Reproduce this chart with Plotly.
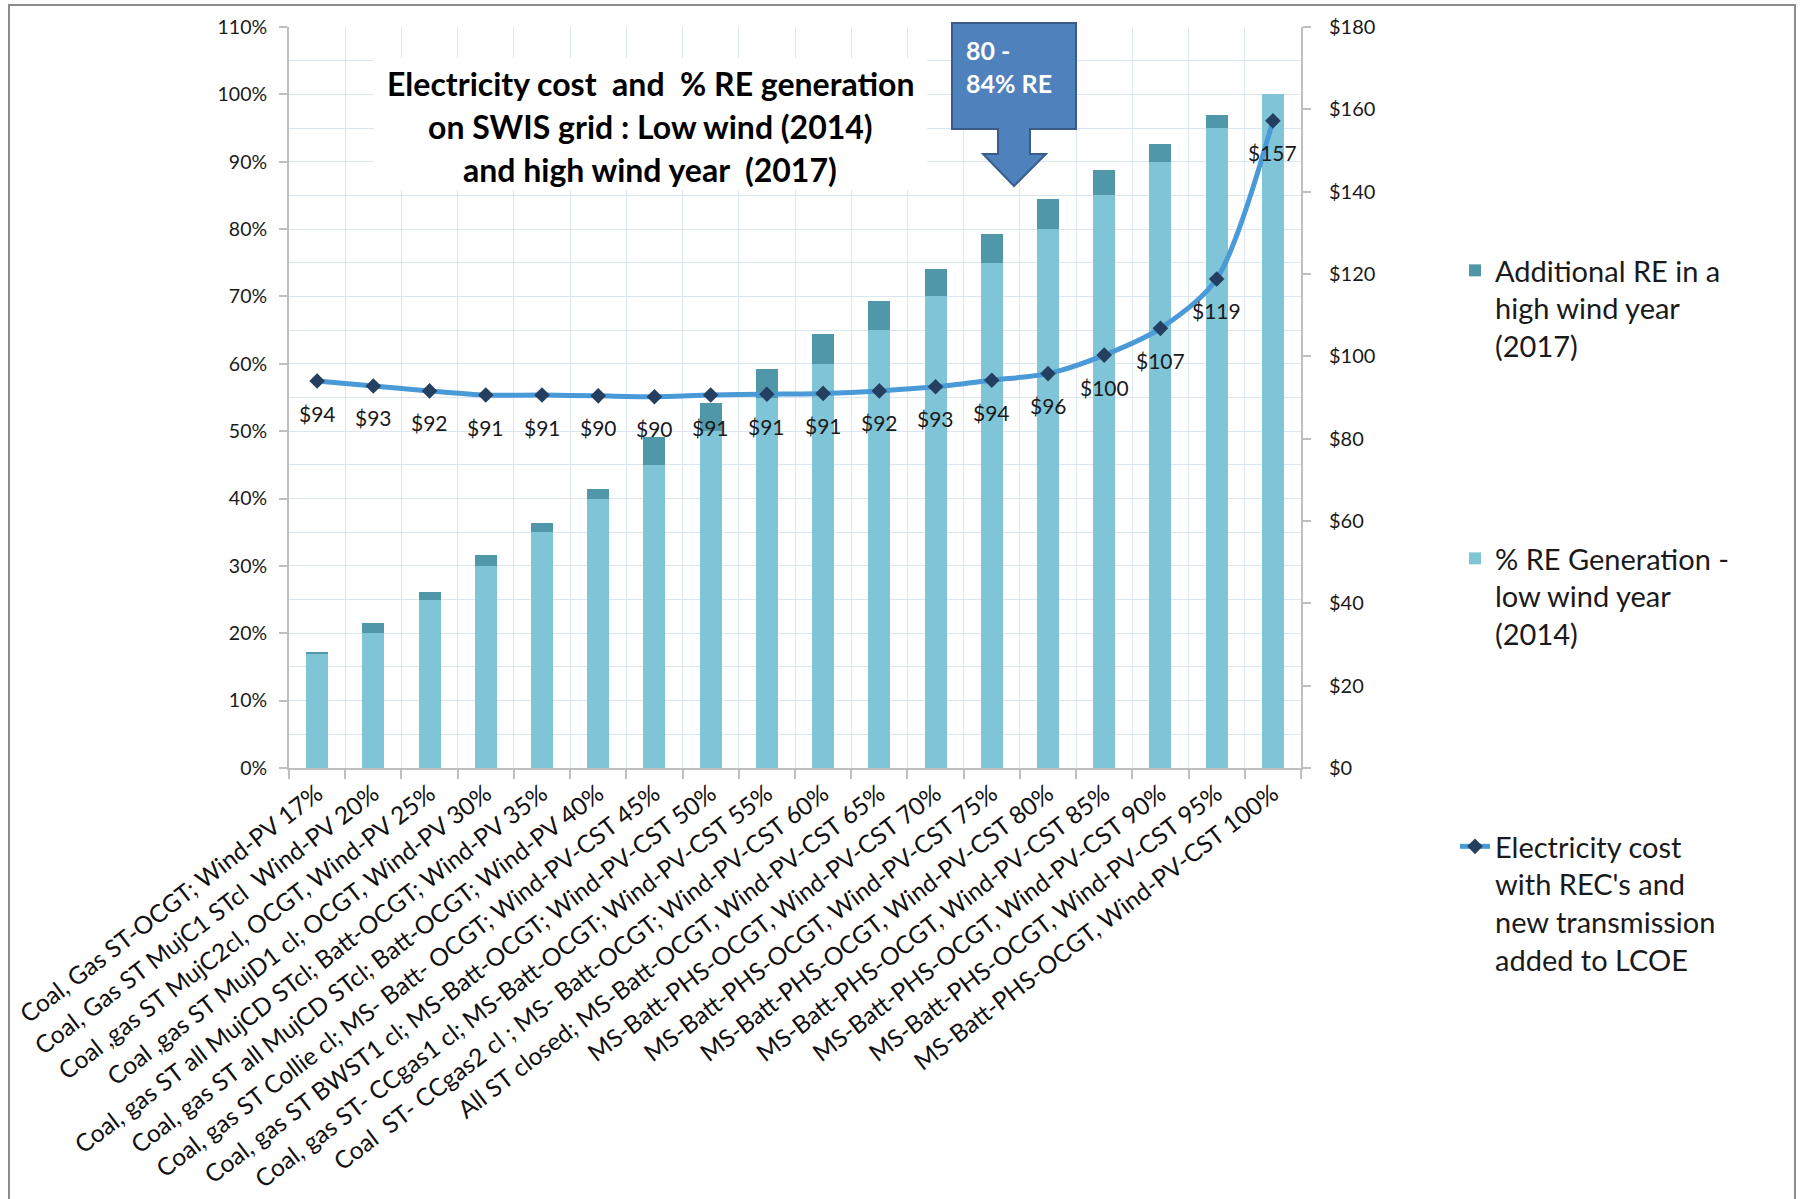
import plotly.graph_objects as go

# ---------------- data ----------------
categories = [
    "Coal, Gas ST-OCGT; Wind-PV 17%",
    "Coal, Gas ST MujC1 STcl  Wind-PV 20%",
    "Coal ,gas ST MujC2cl, OCGT, Wind-PV 25%",
    "Coal ,gas ST MujD1 cl; OCGT, Wind-PV 30%",
    "Coal, gas ST all MujCD STcl; Batt-OCGT; Wind-PV 35%",
    "Coal, gas ST all MujCD STcl; Batt-OCGT; Wind-PV 40%",
    "Coal, gas ST Collie cl; MS- Batt- OCGT; Wind-PV-CST 45%",
    "Coal, gas ST BWST1 cl; MS-Batt-OCGT; Wind-PV-CST 50%",
    "Coal, gas ST- CCgas1 cl; MS-Batt-OCGT; Wind-PV-CST 55%",
    "Coal  ST- CCgas2 cl ; MS- Batt-OCGT; Wind-PV-CST 60%",
    "All ST closed; MS-Batt-OCGT, Wind-PV-CST 65%",
    "MS-Batt-PHS-OCGT, Wind-PV-CST 70%",
    "MS-Batt-PHS-OCGT, Wind-PV-CST 75%",
    "MS-Batt-PHS-OCGT, Wind-PV-CST 80%",
    "MS-Batt-PHS-OCGT, Wind-PV-CST 85%",
    "MS-Batt-PHS-OCGT, Wind-PV-CST 90%",
    "MS-Batt-PHS-OCGT, Wind-PV-CST 95%",
    "MS-Batt-PHS-OCGT, Wind-PV-CST 100%",
]
re_low_wind_2014 = [17, 20, 25, 30, 35, 40, 45, 50, 55, 60, 65, 70, 75, 80, 85, 90, 95, 100]
re_additional_2017 = [0.2, 1.5, 1.1, 1.6, 1.4, 1.4, 4.2, 4.2, 4.2, 4.5, 4.3, 4.1, 4.3, 4.4, 3.7, 2.6, 2.0, 0.0]
cost_lcoe = [94.0, 92.8, 91.6, 90.6, 90.6, 90.4, 90.2, 90.6, 90.8, 91.0, 91.6, 92.6, 94.2, 95.8, 100.3, 106.8, 118.8, 157.2]

name_additional = "Additional RE in a<br>high wind year<br>(2017)"
name_low = "% RE Generation -<br>low wind year<br>(2014)"
name_cost = "Electricity cost<br>with REC's and<br>new transmission<br>added to LCOE"

title_lines = [
    "Electricity cost  and  % RE generation",
    "on SWIS grid : Low wind (2014)",
    "and high wind year  (2017)",
]
callout_text = "80 -<br>84% RE"

left_tick_vals = [0, 10, 20, 30, 40, 50, 60, 70, 80, 90, 100, 110]
left_tick_text = ["0%", "10%", "20%", "30%", "40%", "50%", "60%", "70%", "80%", "90%", "100%", "110%"]
right_tick_vals = [0, 20, 40, 60, 80, 100, 120, 140, 160, 180]
right_tick_text = ["$0", "$20", "$40", "$60", "$80", "$100", "$120", "$140", "$160", "$180"]

# ---------------- layout helpers ----------------
W, H = 1801, 1199
L, R, T, B = 289, 1301, 27, 768
FONT = "Lato"


def px(x):
    return (x - L) / (R - L)


def py(y):
    return (B - y) / (B - T)


LIGHT = "#80c4d7"
DARK = "#5098a9"
LINE = "#4a9ad8"
MARK = "#243f60"
GRID = "#dce6f2"
AXIS = "#bfbfbf"

fig = go.Figure()

fig.add_trace(go.Bar(
    x=categories, y=re_low_wind_2014, name=name_low,
    marker=dict(color=LIGHT, line=dict(width=0)),
    legend="legend2", yaxis="y",
))
fig.add_trace(go.Bar(
    x=categories, y=re_additional_2017, name=name_additional,
    marker=dict(color=DARK, line=dict(width=0)),
    legend="legend", yaxis="y",
))
fig.add_trace(go.Scatter(
    x=categories, y=cost_lcoe, name=name_cost, yaxis="y2",
    mode="lines+markers",
    line=dict(color=LINE, width=5, shape="spline", smoothing=0.8),
    marker=dict(symbol="diamond", size=12, color=MARK),
    legend="legend3",
))

legend_common = dict(
    xanchor="left", yanchor="top", valign="top",
    font=dict(family=FONT, size=29, color="#1a1a1a"),
    bgcolor="rgba(0,0,0,0)", borderwidth=0,
)

fig.update_layout(
    width=W, height=H,
    margin=dict(l=L, r=W - R, t=T, b=H - B, pad=0),
    paper_bgcolor="white", plot_bgcolor="white",
    barmode="stack", bargap=0.61,
    font=dict(family=FONT, size=21, color="#1a1a1a"),
    showlegend=True,
    legend=dict(x=px(1455), y=py(245), **legend_common),
    legend2=dict(x=px(1455), y=py(533), **legend_common),
    legend3=dict(x=px(1455), y=py(821), **legend_common),
    xaxis=dict(
        type="category", range=[-0.5, len(categories) - 0.5],
        tickson="boundaries", tickangle=-37.5,
        showgrid=True, gridcolor=GRID, gridwidth=1,
        showline=True, linecolor=AXIS, linewidth=2,
        ticks="outside", ticklen=9, tickcolor=AXIS, tickwidth=1.5,
        tickfont=dict(family=FONT, size=24.5, color="#111"),
        automargin=False,
    ),
    yaxis=dict(
        range=[0, 110], tickvals=left_tick_vals, ticktext=left_tick_text,
        showgrid=True, gridcolor=GRID, gridwidth=1,
        minor=dict(dtick=5, showgrid=True, gridcolor=GRID, gridwidth=1),
        showline=True, linecolor=AXIS, linewidth=2,
        ticks="outside", ticklen=8, tickcolor=AXIS, tickwidth=1.5,
        tickfont=dict(family=FONT, size=19.5, color="#1a1a1a"),
        ticklabelstandoff=8, zeroline=False, automargin=False,
    ),
    yaxis2=dict(
        range=[0, 180], tickvals=right_tick_vals, ticktext=right_tick_text,
        overlaying="y", side="right", showgrid=False,
        showline=True, linecolor=AXIS, linewidth=2,
        ticks="outside", ticklen=8, tickcolor=AXIS, tickwidth=1.5,
        tickfont=dict(family=FONT, size=20, color="#1a1a1a"),
        ticklabelstandoff=14, zeroline=False, automargin=False,
    ),
)

shapes = []
# chart frame
shapes.append(dict(type="rect", xref="paper", yref="paper",
                   x0=px(9), x1=px(1795), y0=py(1215), y1=py(5),
                   line=dict(color="#8c8c8c", width=2), fillcolor="rgba(0,0,0,0)",
                   layer="above"))
# title white box
shapes.append(dict(type="rect", xref="paper", yref="paper",
                   x0=px(374), x1=px(927), y0=py(190), y1=py(58),
                   line=dict(width=0), fillcolor="white", layer="above"))
# callout down arrow
pts = [(952, 23), (1076, 23), (1076, 129), (1030, 129), (1030, 154), (1046, 154),
       (1014, 186), (983, 154), (998, 154), (998, 129), (952, 129)]
path = "M " + " L ".join(f"{px(x):.5f},{py(y):.5f}" for x, y in pts) + " Z"
shapes.append(dict(type="path", xref="paper", yref="paper", path=path,
                   fillcolor="#4f81bd", line=dict(color="#385d8a", width=2),
                   layer="above"))
fig.update_layout(shapes=shapes)

annotations = []
# data labels under each cost marker
for cat, val in zip(categories, cost_lcoe):
    annotations.append(dict(text=f"${val:.0f}", xref="x", yref="y2", x=cat, y=val,
                            yshift=-32, showarrow=False, xanchor="center", yanchor="middle",
                            font=dict(family=FONT, size=21, color="#1a1a1a")))
for line_txt, yy in zip(title_lines, [84, 126, 169]):
    annotations.append(dict(text=f"<b>{line_txt}</b>", xref="paper", yref="paper",
                            x=px(650), y=py(yy), xanchor="center", yanchor="middle",
                            showarrow=False,
                            font=dict(family=FONT, size=32, color="#000")))
annotations.append(dict(text=f"<b>{callout_text}</b>", xref="paper", yref="paper",
                        x=px(964), y=py(66), xanchor="left", yanchor="middle",
                        align="left", showarrow=False,
                        font=dict(family=FONT, size=25, color="white")))
fig.update_layout(annotations=annotations)

fig.write_html("out.html")
